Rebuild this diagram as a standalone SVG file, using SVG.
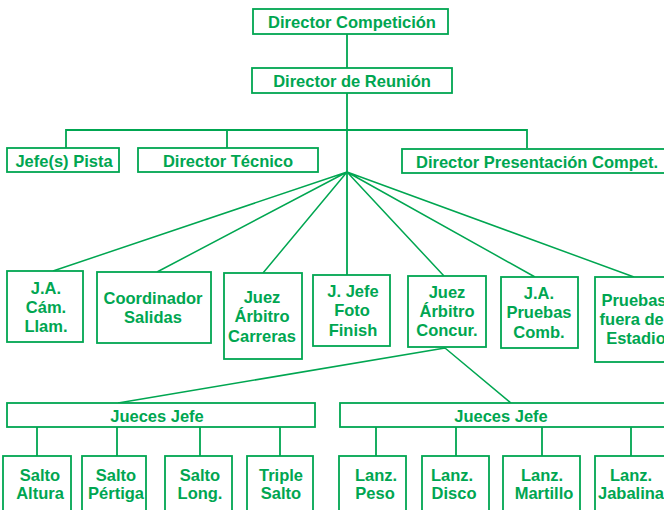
<svg xmlns="http://www.w3.org/2000/svg" width="664" height="510" viewBox="0 0 664 510">
<style>
.b{fill:#fff;stroke:#00a651;stroke-width:1.8}
.t{fill:#00a651;font-family:"Liberation Sans",Arial,sans-serif;font-weight:bold;font-size:16.5px;text-anchor:middle}
.c{fill:none;stroke:#00a651;stroke-width:1.8}
.d{fill:none;stroke:#00a651;stroke-width:1.5}
</style>
<rect width="664" height="510" fill="#fff"/>
<g id="connectors">
<path class="c" d="M347 34V275M66 148V130H527V148M227 130V148"/>
<path class="d" d="M347 172L53 271M347 172L157 272M347 172L263 273M347 172L444 276M347 172L535 277M347 172L634 277"/>
<path class="d" d="M445 348L118 403M445 348L511 403"/>
<path class="c" d="M37 427V456M117 427V456M200 427V456M280 427V456M376 427V456M456 427V456M542 427V456M631 427V456"/>
</g>
<g id="n1"><rect class="b" x="253" y="9" width="195" height="25"/><text class="t" x="352" y="28">Director Competición</text></g>
<g id="n2"><rect class="b" x="252" y="68" width="200" height="25"/><text class="t" x="352" y="87">Director de Reunión</text></g>
<g id="n3"><rect class="b" x="7" y="148" width="112" height="24"/><text class="t" x="64" y="167">Jefe(s) Pista</text></g>
<g id="n4"><rect class="b" x="138" y="148" width="180" height="24"/><text class="t" x="228" y="167">Director Técnico</text></g>
<g id="n5"><rect class="b" x="402" y="149" width="264" height="24"/><text class="t" x="537" y="168">Director Presentación Compet.</text></g>
<g id="n6"><rect class="b" x="7" y="271" width="76" height="71"/><text class="t" x="46" y="294">J.A.</text><text class="t" x="46" y="313">Cám.</text><text class="t" x="46" y="332">Llam.</text></g>
<g id="n7"><rect class="b" x="97" y="272" width="114" height="71"/><text class="t" x="153" y="304">Coordinador</text><text class="t" x="153" y="323">Salidas</text></g>
<g id="n8"><rect class="b" x="224" y="273" width="78" height="86"/><text class="t" x="262" y="303">Juez</text><text class="t" x="262" y="322">Árbitro</text><text class="t" x="262" y="342">Carreras</text></g>
<g id="n9"><rect class="b" x="313" y="275" width="77" height="71"/><text class="t" x="353" y="297">J. Jefe</text><text class="t" x="352" y="316">Foto</text><text class="t" x="353" y="336">Finish</text></g>
<g id="n10"><rect class="b" x="408" y="276" width="78" height="71"/><text class="t" x="447" y="298">Juez</text><text class="t" x="447" y="317">Árbitro</text><text class="t" x="447" y="336">Concur.</text></g>
<g id="n11"><rect class="b" x="501" y="277" width="77" height="71"/><text class="t" x="539" y="299">J.A.</text><text class="t" x="539" y="318">Pruebas</text><text class="t" x="539" y="338">Comb.</text></g>
<g id="n12"><rect class="b" x="595" y="277" width="80" height="85"/><text class="t" x="634" y="306">Pruebas</text><text class="t" x="634" y="325">fuera del</text><text class="t" x="636" y="344">Estadio</text></g>
<g id="n13"><rect class="b" x="7" y="403" width="308" height="24"/><text class="t" x="157" y="422">Jueces Jefe</text></g>
<g id="n14"><rect class="b" x="340" y="403" width="330" height="24"/><text class="t" x="501" y="422">Jueces Jefe</text></g>
<g id="n15"><rect class="b" x="3" y="456" width="68" height="60"/><text class="t" x="40" y="481">Salto</text><text class="t" x="40" y="499">Altura</text></g>
<g id="n16"><rect class="b" x="82" y="456" width="64" height="60"/><text class="t" x="116" y="481">Salto</text><text class="t" x="116" y="499">Pértiga</text></g>
<g id="n17"><rect class="b" x="165" y="456" width="67" height="60"/><text class="t" x="200" y="481">Salto</text><text class="t" x="200" y="499">Long.</text></g>
<g id="n18"><rect class="b" x="247" y="456" width="66" height="60"/><text class="t" x="281" y="481">Triple</text><text class="t" x="281" y="499">Salto</text></g>
<g id="n19"><rect class="b" x="339" y="456" width="67" height="60"/><text class="t" x="376" y="481">Lanz.</text><text class="t" x="375" y="499">Peso</text></g>
<g id="n20"><rect class="b" x="422" y="456" width="67" height="60"/><text class="t" x="452" y="481">Lanz.</text><text class="t" x="454" y="499">Disco</text></g>
<g id="n21"><rect class="b" x="503" y="456" width="77" height="60"/><text class="t" x="542" y="481">Lanz.</text><text class="t" x="544" y="499">Martillo</text></g>
<g id="n22"><rect class="b" x="595" y="456" width="80" height="60"/><text class="t" x="631" y="481">Lanz.</text><text class="t" x="631" y="499">Jabalina</text></g>
</svg>
